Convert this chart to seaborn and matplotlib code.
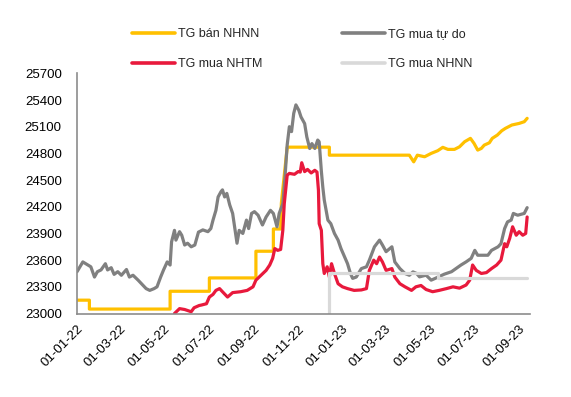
import pandas as pd
import matplotlib
matplotlib.use("Agg")
import matplotlib.pyplot as plt
import matplotlib.dates as mdates
from matplotlib.lines import Line2D
import seaborn as sns

# === Data ===
# TG bán NHNN - SBV selling rate (stepwise in 2022)
ban_nhnn_dates = [
    "2022-01-01", "2022-01-18", "2022-01-18", "2022-05-09", "2022-05-09",
    "2022-07-02", "2022-07-02", "2022-09-04", "2022-09-04", "2022-09-28",
    "2022-09-28", "2022-10-08", "2022-10-09", "2022-10-17", "2022-12-14",
    "2022-12-14", "2023-04-03", "2023-04-09", "2023-04-14", "2023-04-24",
    "2023-05-03", "2023-05-12", "2023-05-19", "2023-05-26", "2023-06-04",
    "2023-06-11", "2023-06-18", "2023-06-26", "2023-07-01", "2023-07-06",
    "2023-07-11", "2023-07-15", "2023-07-22", "2023-07-26", "2023-08-02",
    "2023-08-08", "2023-08-13", "2023-08-22", "2023-09-01", "2023-09-08",
    "2023-09-12",
]
ban_nhnn = [
    23150, 23150, 23050, 23050, 23250,
    23250, 23400, 23400, 23700, 23700,
    23950, 23950, 24240, 24870, 24870,
    24780, 24780, 24705, 24780, 24762,
    24800, 24830, 24868, 24845, 24845,
    24874, 24931, 24969, 24912, 24837,
    24856, 24893, 24919, 24969, 25006,
    25054, 25081, 25119, 25137, 25156,
    25194,
]

# TG mua tự do - free market buying rate
tu_do_dates = [
    "2022-01-01", "2022-01-09", "2022-01-16", "2022-01-20", "2022-01-25",
    "2022-01-29", "2022-02-03", "2022-02-09", "2022-02-12", "2022-02-17",
    "2022-02-21", "2022-02-26", "2022-03-03", "2022-03-10", "2022-03-14",
    "2022-03-19", "2022-03-26", "2022-03-30", "2022-04-06", "2022-04-11",
    "2022-04-17", "2022-04-21", "2022-04-26", "2022-04-30", "2022-05-05",
    "2022-05-09", "2022-05-11", "2022-05-15", "2022-05-17", "2022-05-22",
    "2022-05-25", "2022-05-29", "2022-06-02", "2022-06-07", "2022-06-12",
    "2022-06-17", "2022-06-23", "2022-06-30", "2022-07-04", "2022-07-07",
    "2022-07-11", "2022-07-14", "2022-07-18", "2022-07-20", "2022-07-23",
    "2022-07-26", "2022-07-30", "2022-08-03", "2022-08-06", "2022-08-09",
    "2022-08-12", "2022-08-17", "2022-08-22", "2022-08-25", "2022-08-29",
    "2022-09-02", "2022-09-07", "2022-09-13", "2022-09-18", "2022-09-24",
    "2022-09-28", "2022-10-03", "2022-10-06", "2022-10-11", "2022-10-14",
    "2022-10-17", "2022-10-20", "2022-10-23", "2022-10-26", "2022-10-29",
    "2022-11-02", "2022-11-05", "2022-11-10", "2022-11-13", "2022-11-17",
    "2022-11-20", "2022-11-24", "2022-11-28", "2022-11-30", "2022-12-03",
    "2022-12-05", "2022-12-07", "2022-12-12", "2022-12-16", "2022-12-21",
    "2022-12-26", "2022-12-30", "2023-01-04", "2023-01-08", "2023-01-12",
    "2023-01-15", "2023-01-20", "2023-01-27", "2023-02-03", "2023-02-07",
    "2023-02-14", "2023-02-21", "2023-02-25", "2023-03-02", "2023-03-10",
    "2023-03-14", "2023-03-21", "2023-03-28", "2023-04-03", "2023-04-08",
    "2023-04-13", "2023-04-17", "2023-04-26", "2023-05-03", "2023-05-08",
    "2023-05-21", "2023-05-31", "2023-06-13", "2023-06-20", "2023-06-27",
    "2023-07-02", "2023-07-06", "2023-07-20", "2023-07-25", "2023-08-03",
    "2023-08-07", "2023-08-12", "2023-08-16", "2023-08-21", "2023-08-24",
    "2023-08-30", "2023-09-08", "2023-09-12",
]
tu_do = [
    23470, 23580, 23545, 23525, 23410,
    23470, 23490, 23560, 23490, 23515,
    23440, 23470, 23430, 23495, 23410,
    23430, 23375, 23340, 23280, 23260,
    23280, 23300, 23410, 23490, 23580,
    23545, 23805, 23935, 23825, 23920,
    23880, 23770, 23790, 23750, 23770,
    23915, 23940, 23920, 23955, 24050,
    24160, 24310, 24370, 24390, 24310,
    24350, 24220, 24125, 23955, 23790,
    23935, 23900, 24050, 23955, 24125,
    24145, 24105, 23995, 24085, 24160,
    24125, 23975, 24125, 24235, 24535,
    24895, 25100, 25045, 25250, 25345,
    25285, 25210, 25135, 24985, 24855,
    24910, 24855, 24950, 24930, 24600,
    24420, 24275, 24050, 24010, 23900,
    23825, 23730, 23635, 23560, 23450,
    23395, 23410, 23505, 23525, 23600,
    23750, 23825, 23770, 23695, 23750,
    23580, 23505, 23450, 23430, 23468,
    23450, 23412, 23431, 23375, 23393,
    23442, 23470, 23545, 23580, 23620,
    23710, 23655, 23655, 23710, 23750,
    23785, 23955, 24030, 24050, 24125,
    24105, 24125, 24190,
]

# TG mua NHTM - commercial bank buying rate
nhtm_dates = [
    "2022-05-15", "2022-05-22", "2022-05-29", "2022-06-07", "2022-06-11",
    "2022-06-18", "2022-06-21", "2022-06-28", "2022-07-02", "2022-07-07",
    "2022-07-11", "2022-07-16", "2022-07-20", "2022-07-27", "2022-08-03",
    "2022-08-14", "2022-08-23", "2022-08-31", "2022-09-04", "2022-09-11",
    "2022-09-18", "2022-09-23", "2022-09-27", "2022-09-30", "2022-10-04",
    "2022-10-08", "2022-10-11", "2022-10-13", "2022-10-17", "2022-10-20",
    "2022-10-27", "2022-11-01", "2022-11-04", "2022-11-06", "2022-11-10",
    "2022-11-14", "2022-11-19", "2022-11-24", "2022-11-27", "2022-11-29",
    "2022-11-30", "2022-12-03", "2022-12-05", "2022-12-07", "2022-12-11",
    "2022-12-14", "2022-12-17", "2022-12-21", "2022-12-26", "2023-01-01",
    "2023-01-08", "2023-01-17", "2023-01-27", "2023-02-03", "2023-02-07",
    "2023-02-13", "2023-02-17", "2023-02-21", "2023-02-25", "2023-03-02",
    "2023-03-10", "2023-03-14", "2023-03-21", "2023-03-28", "2023-04-06",
    "2023-04-12", "2023-04-19", "2023-04-26", "2023-05-05", "2023-05-14",
    "2023-05-24", "2023-06-02", "2023-06-11", "2023-06-20", "2023-06-25",
    "2023-06-29", "2023-07-04", "2023-07-11", "2023-07-18", "2023-07-25",
    "2023-08-01", "2023-08-07", "2023-08-12", "2023-08-15", "2023-08-19",
    "2023-08-23", "2023-08-28", "2023-09-01", "2023-09-06", "2023-09-10",
    "2023-09-12",
]
nhtm = [
    23000, 23055, 23045, 23020, 23065,
    23090, 23095, 23110, 23185, 23215,
    23260, 23280, 23245, 23185, 23235,
    23245, 23260, 23300, 23375, 23430,
    23485, 23545, 23620, 23730, 23710,
    23720, 23935, 24235, 24555, 24575,
    24565, 24595, 24590, 24695, 24595,
    24620, 24580, 24610, 24590, 24385,
    24010, 23935, 23560, 23450, 23525,
    23410, 23560, 23450, 23335, 23300,
    23280, 23260, 23265, 23280, 23485,
    23600, 23560, 23635, 23580, 23485,
    23505, 23410, 23335, 23300, 23260,
    23300, 23315, 23270, 23245, 23260,
    23280, 23300, 23285, 23320, 23375,
    23545, 23485, 23450, 23460, 23505,
    23545, 23600, 23785, 23750, 23845,
    23975, 23880, 23920, 23880, 23900,
    24085,
]

# TG mua NHNN - SBV buying rate
mua_nhnn_dates = ["2022-12-13", "2022-12-13", "2023-05-12", "2023-05-12", "2023-09-12"]
mua_nhnn = [23000, 23450, 23450, 23400, 23400]

SERIES = [
    ("TG bán NHNN", ban_nhnn_dates, ban_nhnn, "#FFC000"),
    ("TG mua tự do", tu_do_dates, tu_do, "#808080"),
    ("TG mua NHTM", nhtm_dates, nhtm, "#E8193C"),
    ("TG mua NHNN", mua_nhnn_dates, mua_nhnn, "#D9D9D9"),
]

# === Plot ===
sns.set_style("white")
plt.rcParams["font.family"] = ["Liberation Sans", "DejaVu Sans"]

fig = plt.figure(figsize=(5.71, 3.97), dpi=100)
ax = fig.add_axes([0.1349, 0.2103, 0.7934, 0.6050])

handles = {}
for name, dates, values, color in SERIES:
    sns.lineplot(x=pd.to_datetime(dates), y=values, ax=ax, color=color,
                 linewidth=2.3, sort=False, estimator=None)
    handles[name] = Line2D([], [], color=color, linewidth=2.6)

ax.set_xlim(pd.Timestamp("2022-01-01"), pd.Timestamp("2023-09-16"))
ax.set_ylim(23000, 25700)
ax.set_yticks(range(23000, 25701, 300))
ax.xaxis.set_major_locator(mdates.MonthLocator(bymonth=[1, 3, 5, 7, 9, 11]))
ax.xaxis.set_major_formatter(mdates.DateFormatter("%d-%m-%y"))
ax.set_xlabel("")
ax.set_ylabel("")

for side in ["top", "right"]:
    ax.spines[side].set_visible(False)
for side in ["left", "bottom"]:
    ax.spines[side].set_color("#8c8c8c")
    ax.spines[side].set_linewidth(1.2)

ax.tick_params(axis="both", which="major", direction="out", length=4,
               width=1.2, color="#8c8c8c", labelsize=9.5, labelcolor="black")
ax.tick_params(axis="x", pad=3)
ax.tick_params(axis="y", pad=7)
for lbl in ax.get_xticklabels():
    lbl.set_rotation(45)
    lbl.set_ha("right")
    lbl.set_rotation_mode("anchor")

order = ["TG bán NHNN", "TG mua NHTM", "TG mua tự do", "TG mua NHNN"]
fig.legend([handles[k] for k in order], order, ncol=2, frameon=False,
           loc="upper left", bbox_to_anchor=(0.2207, 0.945), borderpad=0,
           fontsize=9, handlelength=3.4, handletextpad=0.25,
           columnspacing=6.4, labelspacing=1.45)

fig.savefig("out.png", dpi=100)
plt.close(fig)
